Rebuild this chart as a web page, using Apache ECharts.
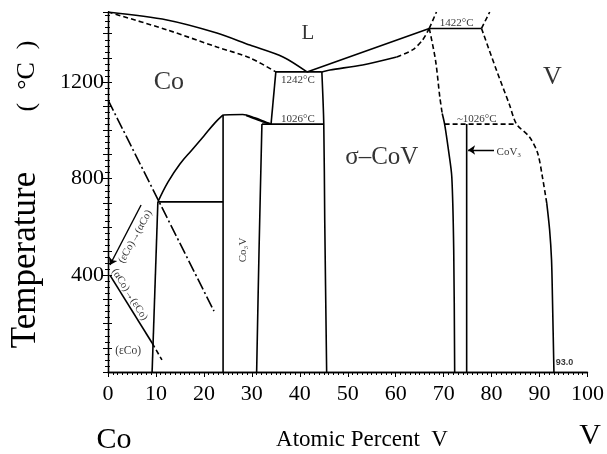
<!DOCTYPE html>
<html>
<head>
<meta charset="utf-8">
<script src="https://cdn.jsdelivr.net/npm/echarts@6/dist/echarts.min.js"></script>
<style>
  html, body { margin: 0; padding: 0; background: #fff; }
  #chart { width: 607px; height: 454px; }
</style>
</head>
<body>
<div id="chart"></div>
<script>
// Co–V binary phase diagram: composition in at.% V, temperature in °C.

// Axis ticks
const xTickLabels = [0, 10, 20, 30, 40, 50, 60, 70, 80, 90, 100];
const yTickLabels = [400, 800, 1200];

// Invariant temperatures (°C)
const tEutecticL = 1242;
const tPeritectic = 1422;
const tEutectoid = 1026;

// Liquidus / solidus on the Co side
const liquidusCo = [[0, 1490], [12.3, 1457], [22.7, 1403], [29.6, 1353], [36.5, 1304], [41.5, 1242]];
const solidusCo = [[0, 1490], [12.3, 1416], [22.7, 1345], [29.6, 1300], [35.0, 1242]];
const eutecticLine = [[35.0, 1242], [44.6, 1242]];
const alphaCoHigh = [[35.0, 1242], [34.0, 1026]];

// sigma phase field
const liquidusSigma = [[41.5, 1242], [67.0, 1422]];
const solidusSigma = [[44.6, 1242], [46.3, 1250], [53.1, 1271], [60.2, 1304]];
const solidusSigmaDashed = [[60.2, 1304], [63.5, 1333], [65.6, 1374], [67.0, 1422]];
const sigmaLeft = [[44.6, 1242], [45.0, 1026], [45.2, 629], [45.6, 0]];
const sigmaRightDashed = [[67.0, 1422], [68.3, 1291], [69.2, 1138], [69.7, 1070]];
const sigmaRight = [[69.7, 1070], [70.2, 1026], [71.0, 919], [71.7, 807], [72.1, 505], [72.3, 0]];

// Peritectic and the V-rich side
const peritecticLine = [[67.0, 1422], [77.9, 1422]];
const liquidusV = [[67.0, 1422], [68.5, 1490]];
const solidusV = [[77.9, 1422], [79.6, 1490]];
const eutectoidV = [[70.2, 1026], [85.2, 1026]];
const coV3Line = [[74.8, 1026], [74.8, 0]];
const coV3Pointer = [[80.5, 919], [75.1, 919]];
const vSolvusDashed = [[77.9, 1422], [81.0, 1250], [83.75, 1105], [85.2, 1026], [87.9, 973], [89.6, 906], [90.6, 807], [91.5, 699]];
const vSolvus = [[91.5, 699], [92.1, 588], [92.5, 464], [92.7, 298], [93.0, 0]];

// Co3V field and the 1026 °C eutectoid
const co3vLeft = [[24.0, 0], [24.0, 1064]];
const co3vRight = [[31.0, 0], [31.5, 505], [32.1, 1026]];
const co3vTop = [[24.0, 1064], [28.1, 1066], [30.6, 1052], [32.5, 1038], [34.0, 1026]];
const co3vTopInner = [[28.8, 1062], [30.6, 1048], [32.4, 1035], [34.0, 1026]];
const eutectoidLine = [[32.1, 1026], [45.0, 1026]];

// Co-rich solid region
const alphaSolvus = [[10.4, 704], [12.5, 786], [15.0, 861], [17.5, 919], [20.0, 977], [22.3, 1031], [24.0, 1064]];
const peritectoidLine = [[10.4, 704], [24.0, 704]];
const epsilonBoundary = [[9.2, 0], [10.4, 704]];
const curieLine = [[0, 1126], [22.1, 252]];
const heatingLine = [[6.9, 691], [0.4, 443]];
const coolingLine = [[0.4, 401], [9.2, 120]];
const coolingDashed = [[9.2, 120], [11.25, 50]];

const SERIF = '"Liberation Serif", "Times New Roman", serif';
const SANS = '"Liberation Sans", Arial, sans-serif';
const INK = '#000';

function curve(data, type, smooth) {
  return {
    type: 'line',
    data: data,
    showSymbol: false,
    symbol: 'none',
    silent: true,
    animation: false,
    smooth: smooth || false,
    lineStyle: { color: INK, width: 1.6, type: type || 'solid' },
    z: 3
  };
}

function arrowLine(coords) {
  return {
    type: 'lines',
    coordinateSystem: 'cartesian2d',
    symbol: ['none', 'arrow'],
    symbolSize: 7,
    silent: true,
    animation: false,
    lineStyle: { color: INK, width: 1.4, opacity: 1 },
    data: [{ coords: coords }],
    z: 3
  };
}

function note(text, x, y, size, opts) {
  opts = opts || {};
  return {
    type: 'scatter',
    data: [[x, y]],
    symbolSize: 1,
    silent: true,
    animation: false,
    itemStyle: { color: 'transparent' },
    label: {
      show: true,
      position: 'inside',
      formatter: text,
      fontSize: size,
      fontFamily: opts.family || SERIF,
      fontWeight: opts.weight || 'normal',
      color: INK,
      rotate: opts.rotate || 0
    },
    z: 5
  };
}

const DASH = [5, 3];
const DASH_DOT = [12, 3, 2, 3];

const series = [
  curve(liquidusCo, null, 0.3),
  curve(solidusCo, DASH, 0.3),
  curve(eutecticLine),
  curve(alphaCoHigh),
  curve(liquidusSigma),
  curve(solidusSigma, null, 0.3),
  curve(solidusSigmaDashed, DASH, 0.3),
  curve(sigmaLeft, null, 0.3),
  curve(sigmaRightDashed, DASH, 0.3),
  curve(sigmaRight, null, 0.3),
  curve(peritecticLine),
  curve(liquidusV, DASH),
  curve(solidusV, DASH),
  curve(eutectoidV, DASH),
  curve(coV3Line),
  curve(vSolvusDashed, DASH, 0.3),
  curve(vSolvus, null, 0.3),
  curve(co3vLeft),
  curve(co3vRight, null, 0.3),
  curve(co3vTop, null, 0.3),
  curve(co3vTopInner, null, 0.3),
  curve(eutectoidLine),
  curve(alphaSolvus, null, 0.4),
  curve(peritectoidLine),
  curve(epsilonBoundary),
  curve(curieLine, DASH_DOT),
  arrowLine(heatingLine),
  curve(coolingLine),
  curve(coolingDashed, DASH),
  arrowLine(coV3Pointer),

  note('L', 41.7, 1403, 21),
  note('Co', 12.7, 1200, 26),
  note('V', 92.7, 1221, 26),
  note('σ–CoV', 57.1, 886, 25),
  note(tEutecticL + '°C', 39.6, 1209, 11),
  note(tEutectoid + '°C', 39.6, 1045, 11),
  note(tPeritectic + '°C', 72.7, 1445, 11),
  note('~' + tEutectoid + '°C', 76.9, 1045, 11),
  note('CoV₃', 83.6, 911, 11),
  note('Co₃V', 28.1, 505, 11, { rotate: 90 }),
  note('(εCo)→(αCo)', 5.7, 560, 10.5, { rotate: 61 }),
  note('(αCo)→(εCo)', 4.5, 321, 10.5, { rotate: -58 }),
  note('(εCo)', 4.2, 87, 11.5),
  note('93.0', 95.2, 41, 9, { family: SANS, weight: 'bold' })
];

const axisLine = { show: true, lineStyle: { color: INK, width: 1.3 } };

const chart = echarts.init(document.getElementById('chart'), null, { renderer: 'canvas' });
chart.setOption({
  animation: false,
  backgroundColor: '#fff',
  grid: { left: 108, right: 19, top: 12, bottom: 82, containLabel: false },
  xAxis: [
    {
      type: 'value', position: 'bottom', min: 0, max: 100, interval: 10,
      axisLine: axisLine,
      axisTick: { show: true, inside: false, length: 5, lineStyle: { color: INK } },
      minorTick: { show: true, splitNumber: 10, length: 3, lineStyle: { color: INK } },
      splitLine: { show: false },
      axisLabel: {
        fontFamily: SERIF, fontSize: 22, color: INK, margin: 11,
        formatter: v => (xTickLabels.indexOf(v) >= 0 ? String(v) : '')
      }
    },
    {
      type: 'value', position: 'top', min: 0, max: 100, interval: 10,
      axisLine: axisLine,
      axisTick: { show: true, inside: true, length: 4, lineStyle: { color: INK } },
      minorTick: { show: true, splitNumber: 10, length: 2, lineStyle: { color: INK } },
      splitLine: { show: false },
      axisLabel: { show: false }
    }
  ],
  yAxis: [
    {
      type: 'value', position: 'left', min: 0, max: 1490, interval: 100,
      axisLine: axisLine,
      axisTick: { show: true, inside: false, length: 5, lineStyle: { color: INK } },
      minorTick: { show: true, splitNumber: 4, length: 3, lineStyle: { color: INK } },
      splitLine: { show: false },
      axisLabel: {
        fontFamily: SERIF, fontSize: 22, color: INK, margin: 4, showMaxLabel: false,
        formatter: v => (yTickLabels.indexOf(v) >= 0 ? String(v) : '')
      }
    },
    {
      type: 'value', position: 'right', min: 0, max: 1490, interval: 100,
      axisLine: axisLine,
      axisTick: { show: true, inside: false, length: 4, lineStyle: { color: INK } },
      minorTick: { show: true, splitNumber: 4, length: 2, lineStyle: { color: INK } },
      splitLine: { show: false },
      axisLabel: { show: false }
    }
  ],
  graphic: [
    {
      type: 'text', x: 26, y: 260, rotation: Math.PI / 2,
      style: { text: 'Temperature', font: '35px ' + SERIF, fill: INK, align: 'center', verticalAlign: 'middle', textAlign: 'center', textVerticalAlign: 'middle' }
    },
    {
      type: 'text', x: 27, y: 76, rotation: Math.PI / 2,
      style: { text: '(  °C  )', font: '26px ' + SERIF, fill: INK, align: 'center', verticalAlign: 'middle', textAlign: 'center', textVerticalAlign: 'middle' }
    },
    {
      type: 'text', x: 114, y: 440,
      style: { text: 'Co', font: '30px ' + SERIF, fill: INK, align: 'center', verticalAlign: 'middle', textAlign: 'center', textVerticalAlign: 'middle' }
    },
    {
      type: 'text', x: 362, y: 440,
      style: { text: 'Atomic Percent  V', font: '23px ' + SERIF, fill: INK, align: 'center', verticalAlign: 'middle', textAlign: 'center', textVerticalAlign: 'middle' }
    },
    {
      type: 'text', x: 590, y: 436,
      style: { text: 'V', font: '30px ' + SERIF, fill: INK, align: 'center', verticalAlign: 'middle', textAlign: 'center', textVerticalAlign: 'middle' }
    }
  ],
  series: series
});
</script>
</body>
</html>
